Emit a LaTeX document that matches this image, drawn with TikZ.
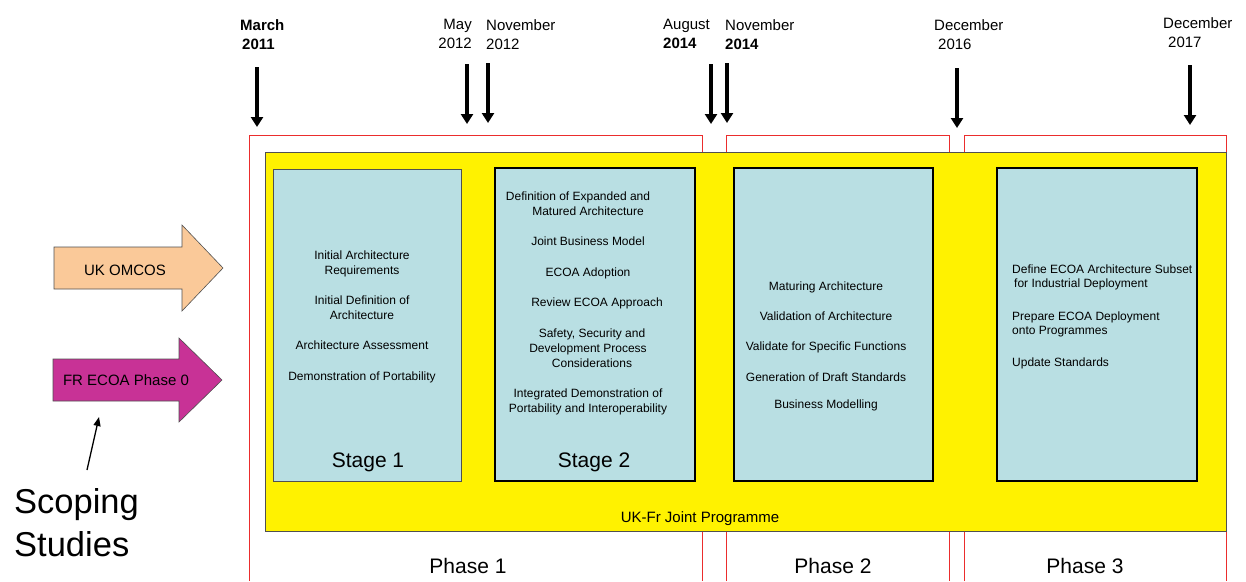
\documentclass[tikz,border=0pt]{standalone}
\usepackage{fontspec}
\setmainfont{Liberation Sans}
\usetikzlibrary{arrows.meta}
\definecolor{stagefill}{RGB}{185,223,227}
\definecolor{omcospeach}{RGB}{250,201,153}
\definecolor{ecoamagenta}{RGB}{200,50,150}
\definecolor{phasered}{RGB}{235,45,45}
\definecolor{edgegray}{RGB}{80,80,80}

\begin{document}
\begin{tikzpicture}[x=1pt,y=-1pt]
        \tikzset{datelabel/.style = {align=left, inner sep=0pt, anchor=north west, font=\fontsize{15}{19}\selectfont}}
        \tikzset{datearrow/.style = {line width=3.5pt, -{Triangle[width=12pt,length=10pt]}}}
        \tikzset{phaseframe/.style = {draw=phasered, line width=0.8pt}}
        \tikzset{stagebox/.style = {draw=black, line width=1.5pt, fill=stagefill, inner sep=0pt}}
        \tikzset{boxtext/.style = {align=center, inner sep=0pt, font=\fontsize{12}{15}\selectfont}}
        \tikzset{biglabel/.style = {inner sep=0pt, font=\fontsize{21}{25}\selectfont}}
        \tikzset{blockarrow/.style = {draw=edgegray, line width=0.6pt}}
        \useasboundingbox (0,0) rectangle (1246,581);
        % dates along the top
        \node[datelabel] (mar11) at (240,19) {\textbf{March}\\\hspace{2pt}\textbf{2011}};
        \node[datelabel, anchor=north east, align=right] (may12) at (472,19) {May\\2012};
        \node[datelabel] (nov12) at (486,19) {November\\2012};
        \node[datelabel] (aug14) at (663,19) {August\\\textbf{2014}};
        \node[datelabel] (nov14) at (725,19) {November\\\textbf{2014}};
        \node[datelabel] (dec16) at (934,19) {December\\\hspace{4pt}2016};
        \node[datelabel] (dec17) at (1163,17) {December\\\hspace{5pt}2017};
        % arrows under the dates
        \coordinate (mar11top) at (257,67);  \coordinate (mar11tip) at (257,127);
        \coordinate (may12top) at (467,64);  \coordinate (may12tip) at (467,124);
        \coordinate (nov12top) at (488,63);  \coordinate (nov12tip) at (488,123);
        \coordinate (aug14top) at (711,64);  \coordinate (aug14tip) at (711,124);
        \coordinate (nov14top) at (727,63);  \coordinate (nov14tip) at (727,123);
        \coordinate (dec16top) at (957,68);  \coordinate (dec16tip) at (957,128);
        \coordinate (dec17top) at (1190,65); \coordinate (dec17tip) at (1190,125);
        \draw[datearrow] (mar11top) -- (mar11tip);
        \draw[datearrow] (may12top) -- (may12tip);
        \draw[datearrow] (nov12top) -- (nov12tip);
        \draw[datearrow] (aug14top) -- (aug14tip);
        \draw[datearrow] (nov14top) -- (nov14tip);
        \draw[datearrow] (dec16top) -- (dec16tip);
        \draw[datearrow] (dec17top) -- (dec17tip);
        % phase frames
        \draw[phaseframe] (249,581) |- (702,135) -- (702,581);
        \draw[phaseframe] (726,581) |- (949,135) -- (949,581);
        \draw[phaseframe] (964,581) |- (1226,135) -- (1226,581);
        \node[biglabel] (phase1) at (468,566) {Phase 1};
        \node[biglabel] (phase2) at (833,566) {Phase 2};
        \node[biglabel] (phase3) at (1085,566) {Phase 3};
        % joint programme
        \node[draw=edgegray, line width=0.8pt, fill=yellow, minimum width=961pt, minimum height=379pt, inner sep=0pt] (joint) at (745.5,341.5) {};
        \node[inner sep=0pt, font=\fontsize{15}{18}\selectfont] (jointlabel) at (700,519) {UK-Fr Joint Programme};
        % stages
        \node[stagebox, draw=edgegray, line width=1pt, minimum width=188pt, minimum height=312pt] (stage1) at (367,325) {};
        \node[stagebox, minimum width=200pt, minimum height=313pt] (stage2) at (595,324.5) {};
        \node[stagebox, minimum width=199pt, minimum height=313pt] (stage3) at (833.5,324.5) {};
        \node[stagebox, minimum width=200pt, minimum height=313pt] (stage4) at (1097,324.5) {};
        \node[biglabel] (stage1label) at (368,462) {Stage 1};
        \node[biglabel] (stage2label) at (594,462) {Stage 2};
        \node[boxtext] (stage1text) at (362,317) {Initial Architecture\\Requirements\\[15pt]Initial Definition of\\Architecture\\[15pt]Architecture Assessment\\[16pt]Demonstration of Portability};
        \node[boxtext] (stage2text) at (588,303) {Definition of Expanded and\hspace*{20pt}\\Matured Architecture\hspace*{12pt}\\[15pt]Joint Business Model\hspace*{16pt}\\[16pt]ECOA Adoption\hspace*{12pt}\\[15pt]\hspace*{18pt}Review ECOA Approach\\[16pt]\hspace*{8pt}Safety, Security and\\Development Process\\\hspace*{8pt}Considerations\\[15pt]Integrated Demonstration of\\Portability and Interoperability};
        \node[boxtext] (stage3text) at (826,346) {Maturing Architecture\\[15pt]Validation of Architecture\\[15pt]Validate for Specific Functions\\[16pt]Generation of Draft Standards\\[12pt]Business Modelling};
        \node[boxtext, align=left, anchor=west, font=\fontsize{12}{14}\selectfont] (stage4text) at (1012,317) {Define ECOA Architecture Subset\\\hspace{2pt}for Industrial Deployment\\[19pt]Prepare ECOA Deployment\\onto Programmes\\[18pt]Update Standards};
        % scoping studies
        \filldraw[blockarrow, fill=omcospeach] (54,247) -- (182,247) -- (182,225) -- (223,268) -- (182,311) -- (182,289) -- (54,289) -- cycle;
        \node[inner sep=0pt, font=\fontsize{15}{18}\selectfont] (omcos) at (125,270) {UK OMCOS};
        \filldraw[blockarrow, fill=ecoamagenta] (53,359) -- (179,359) -- (179,338) -- (222,380) -- (179,422) -- (179,401) -- (53,401) -- cycle;
        \node[inner sep=0pt, font=\fontsize{15}{18}\selectfont] (ecoa) at (126,380) {FR ECOA Phase 0};
        \node[align=left, inner sep=0pt, anchor=north west, font=\fontsize{34.5}{43}\selectfont] (scoping) at (14,488) {Scoping\\Studies};
        \coordinate (scopefoot) at (87,470);
        \coordinate (scopetip) at (99,417);
        \draw[line width=1.3pt, -{Triangle[width=7pt,length=9pt]}] (scopefoot) -- (scopetip);
\end{tikzpicture}
\end{document}
